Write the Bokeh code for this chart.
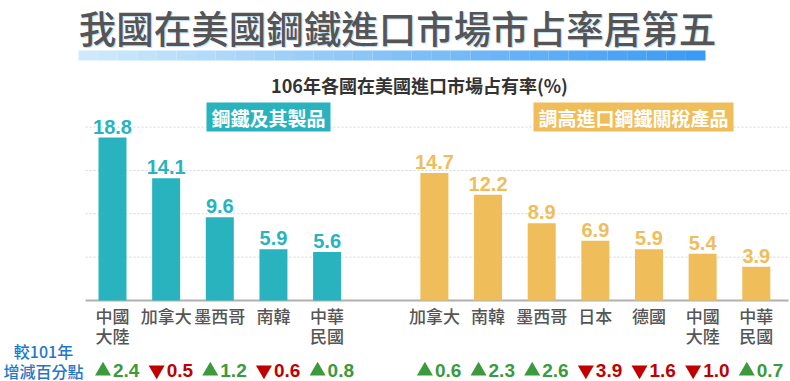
from bokeh.plotting import figure
from bokeh.models import Range1d
from bokeh.core.properties import value
from bokeh.embed import file_html
from bokeh.resources import INLINE

# ---------------- data ----------------
title = "我國在美國鋼鐵進口市場市占率居第五"
subtitle = "106年各國在美國進口市場占有率(%)"
group1_name = "鋼鐵及其製品"
group2_name = "調高進口鋼鐵關稅產品"
group1_cats = ["中國\n大陸", "加拿大", "墨西哥", "南韓", "中華\n民國"]
group1_vals = [18.8, 14.1, 9.6, 5.9, 5.6]
group1_delta = [2.4, -0.5, 1.2, -0.6, 0.8]
group2_cats = ["加拿大", "南韓", "墨西哥", "日本", "德國", "中國\n大陸", "中華\n民國"]
group2_vals = [14.7, 12.2, 8.9, 6.9, 5.9, 5.4, 3.9]
group2_delta = [0.6, 2.3, 2.6, -3.9, -1.6, -1.0, 0.7]
grid_ticks = [5, 10, 15, 20]
delta_label = ["較101年", "增減百分點"]

# ---------------- layout helpers ----------------
W, H = 790, 381
SLOT = 53.65      # px per category slot
X0 = 112          # x of slot 0 centre
UNIT = 8.67       # px per percentage point
BASE = 300        # y of zero line

def X(px):
    return (px - X0) / SLOT

def Y(py):
    return (BASE - py) / UNIT

TEAL = "#29b3be"
GOLD = "#f0bd5b"
GREEN = "#3a9a3c"
RED = "#c00000"
BLUE = "#1f78c8"
GRAY = "#555555"

p = figure(width=W, height=H, output_backend="svg", toolbar_location=None,
           x_range=Range1d(X(0), X(W)), y_range=Range1d(Y(H), Y(0)),
           min_border=0)
p.axis.visible = False
p.grid.visible = False
p.outline_line_color = None
p.background_fill_color = "white"

cjk = value("Noto Sans CJK TC")
cjkm = value("Noto Sans CJK TC Medium")
num = value("Liberation Sans")

# title (with a faint blue shadow)
p.text(x=[X(398)], y=[Y(26.8)], text=[title], text_font=cjkm,
       text_font_size="37.5px", text_color="#c2def6", text_align="center", text_baseline="middle")
p.text(x=[X(397)], y=[Y(26)], text=[title], text_font=cjkm,
       text_font_size="37.5px", text_color="#555555", text_align="center", text_baseline="middle")

# gradient strip under title
n = 32
x_a, x_b = 78, 705
c0 = (0xcf, 0xea, 0xfc)
c1 = (0x3a, 0x9a, 0xf5)
lefts, rights, cols = [], [], []
for k in range(n):
    t = k / (n - 1)
    col = "#%02x%02x%02x" % tuple(int(round(a + (b - a) * t)) for a, b in zip(c0, c1))
    lefts.append(X(x_a + (x_b - x_a) * k / n))
    rights.append(X(x_a + (x_b - x_a) * (k + 1) / n))
    cols.append(col)
p.quad(left=lefts, right=rights, bottom=Y(60), top=Y(50), fill_color=cols, line_color=None)

# subtitle
p.text(x=[X(419)], y=[Y(84)], text=[subtitle], text_font=cjk, text_font_style="bold",
       text_font_size="18px", text_color="#333333", text_align="center", text_baseline="middle")

# grid lines and baseline
p.segment(x0=[X(85)] * len(grid_ticks), x1=[X(790)] * len(grid_ticks), y0=grid_ticks, y1=grid_ticks,
          line_color="#d4d4d4", line_width=1, line_dash="2 2")
p.segment(x0=[X(85)], x1=[X(788)], y0=[0], y1=[0], line_color="#b0b0b0", line_width=2)

# positions
pos1 = list(range(len(group1_cats)))
pos2 = [len(group1_cats) + 1 + i for i in range(len(group2_cats))]

bw = 28 / SLOT
p.vbar(x=pos1, top=group1_vals, bottom=0, width=bw, fill_color=TEAL, line_color=None)
p.vbar(x=pos2, top=group2_vals, bottom=0, width=bw, fill_color=GOLD, line_color=None)

# value labels
off = 4 / UNIT
p.text(x=pos1, y=[v + off for v in group1_vals], text=["%.1f" % v for v in group1_vals],
       text_font=num, text_font_style="bold", text_font_size="20px", text_color=TEAL,
       text_align="center", text_baseline="bottom")
p.text(x=pos2, y=[v + off for v in group2_vals], text=["%.1f" % v for v in group2_vals],
       text_font=num, text_font_style="bold", text_font_size="20px", text_color=GOLD,
       text_align="center", text_baseline="bottom")

# group name boxes
p.quad(left=[X(206), X(533)], right=[X(330), X(733)], bottom=[Y(131), Y(131)], top=[Y(102), Y(102)],
       fill_color=[TEAL, GOLD], line_color=None)
p.text(x=[X(268), X(633)], y=[Y(116.5), Y(116.5)], text=[group1_name, group2_name], text_font=cjk,
       text_font_style="bold", text_font_size="19px", text_color="white",
       text_align="center", text_baseline="middle")

# category labels (two lines max)
cats = group1_cats + group2_cats
pos = pos1 + pos2
l1 = [c.split("\n")[0] for c in cats]
l2 = [c.split("\n")[1] if "\n" in c else "" for c in cats]
p.text(x=pos, y=[Y(315)] * len(pos), text=l1, text_font=cjkm, text_font_size="17px",
       text_color=GRAY, text_align="center", text_baseline="middle")
p.text(x=pos, y=[Y(335)] * len(pos), text=l2, text_font=cjkm, text_font_size="17px",
       text_color=GRAY, text_align="center", text_baseline="middle")

# delta row: triangle marker + number
deltas = group1_delta + group2_delta
up_x = [x - 9.5 / SLOT for x, d in zip(pos, deltas) if d > 0]
dn_x = [x - 9.5 / SLOT for x, d in zip(pos, deltas) if d < 0]
p.scatter(x=up_x, y=[Y(370.5)] * len(up_x), marker="triangle", size=16,
          fill_color=GREEN, line_color=None)
p.scatter(x=dn_x, y=[Y(369.5)] * len(dn_x), marker="inverted_triangle", size=16,
          fill_color=RED, line_color=None)
p.text(x=[x + 0.5 / SLOT for x in pos], y=[Y(370)] * len(pos), text=["%.1f" % abs(d) for d in deltas],
       text_font=num, text_font_style="bold", text_font_size="19px",
       text_color=[GREEN if d > 0 else RED for d in deltas],
       text_align="left", text_baseline="middle")

p.text(x=[X(43), X(43)], y=[Y(350), Y(370)], text=delta_label, text_font=cjkm,
       text_font_size="16px", text_color=BLUE, text_align="center", text_baseline="middle")

open("out.html", "w").write(file_html(p, INLINE))
